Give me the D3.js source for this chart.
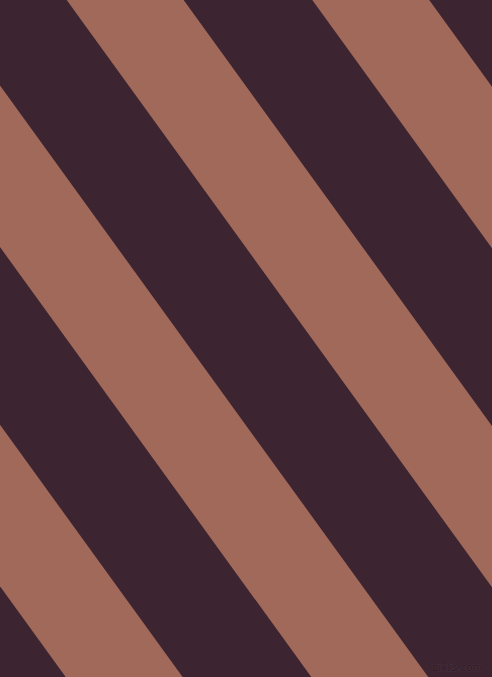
<!DOCTYPE html>
<html>
<head>
<meta charset="utf-8">
<script src="https://cdn.jsdelivr.net/npm/d3@7"></script>
<style>
  html, body { margin: 0; padding: 0; background: #3c2531; overflow: hidden; }
  svg { display: block; }
</style>
</head>
<body>
<svg id="svgRayas" width="492" height="677"></svg>
<script>
// stripe index (k), each brown band starts one period after the last
var stripeIndex = [-2, -1, 0, 1];
// band edges at the top row, as fraction of one period
var bandStart = [0, 0, 0, 0];
var bandEnd = [0.476, 0.476, 0.476, 0.476];
// horizontal drift of a band from top to bottom, in periods
var driftPeriods = [2];
var colors = ["#3c2531", "#a1695a"];
var watermark = ["pixlis.com"];

function dibujarRayas(){
    var svg = d3.select("#svgRayas"),
        width = +svg.attr("width"),
        height = +svg.attr("height");

    // one period of the pattern measured along the top edge
    var x = d3.scaleLinear().domain([0, 1]).range([66.7, 312.3]);
    var period = x(1) - x(0);
    var y = d3.scaleLinear().domain([0, 1]).range([0, height]);
    var drift = driftPeriods[0] * period - 1;

    svg.append("rect")
       .attr("width", width)
       .attr("height", height)
       .attr("fill", colors[0]);

    var data = stripeIndex.map(function(k, i){
        return { k: k, a: bandStart[i], b: bandEnd[i] };
    });

    svg.selectAll(".raya")
       .data(data)
       .enter().append("path")
       .attr("class", "raya")
       .attr("fill", colors[1])
       .attr("d", function(d){
           var x0 = x(d.k + d.a), x1 = x(d.k + d.b);
           return "M" + x0 + "," + y(0) +
                  "L" + x1 + "," + y(0) +
                  "L" + (x1 + drift) + "," + y(1) +
                  "L" + (x0 + drift) + "," + y(1) + "Z";
       });

    svg.append("text")
       .attr("x", width - 10)
       .attr("y", height - 6)
       .attr("text-anchor", "end")
       .attr("font-family", "DejaVu Sans, sans-serif")
       .attr("font-size", "10px")
       .attr("fill", "#2c1a24")
       .attr("stroke", "#54394a")
       .attr("stroke-width", 0.6)
       .attr("paint-order", "stroke")
       .text(watermark[0]);
}

dibujarRayas();
</script>
</body>
</html>
